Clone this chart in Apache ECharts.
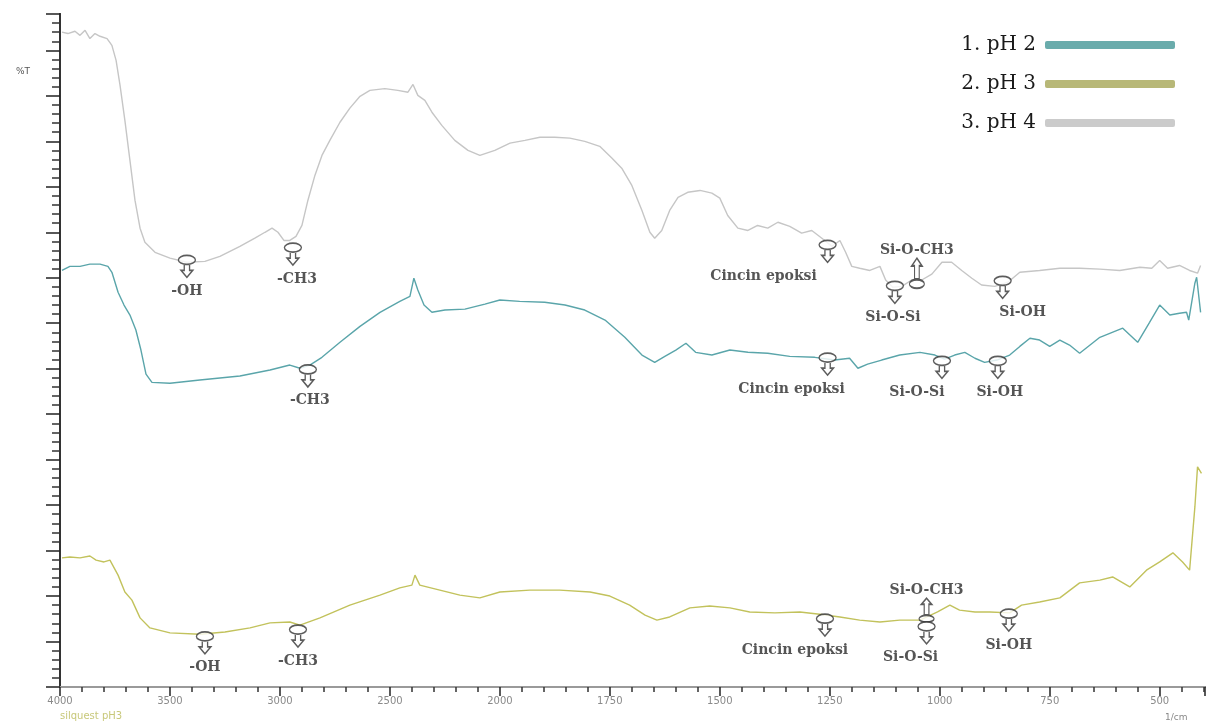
<!DOCTYPE html>
<html><head><meta charset="utf-8">
<script src="https://cdn.jsdelivr.net/npm/echarts@6/dist/echarts.min.js"></script>
<style>html,body{margin:0;padding:0;background:#fff}#c{width:1208px;height:725px}</style>
</head><body><div id="c"></div><script>
// ---- data (wavenumber in 1/cm, transmittance in arbitrary %T units) ----
const seriesNames = ['1. pH 2', '2. pH 3', '3. pH 4'];
const xTickLabels = [4000, 3500, 3000, 2500, 2000, 1750, 1500, 1250, 1000, 750, 500];

const wnPH4 = [3991,3964,3932,3909,3886,3864,3841,3818,3786,3764,3745,3727,3705,3682,3659,3636,3614,3568,3500,3423,3341,3273,3182,3114,3068,3036,3009,2982,2955,2927,2900,2873,2841,2809,2773,2727,2682,2636,2591,2523,2464,2418,2395,2373,2341,2309,2264,2205,2145,2091,2023,1977,1943,1909,1875,1841,1807,1773,1745,1723,1700,1677,1659,1648,1632,1614,1595,1573,1545,1518,1500,1482,1459,1436,1414,1391,1368,1341,1314,1291,1268,1245,1227,1214,1200,1182,1159,1136,1123,1107,1086,1064,1041,1018,995,973,950,927,905,875,845,818,773,727,682,636,591,545,518,500,482,455,432,414,407];
const tPH4 = [144.0,143.7,144.2,143.3,144.4,142.6,143.7,143.1,142.6,141.1,137.8,132.3,124.6,115.8,107.0,100.9,97.8,95.6,94.3,93.4,93.6,94.7,96.9,98.7,100.0,100.9,100.0,98.2,98.2,99.1,101.5,107.0,112.5,116.9,120.2,124.2,127.3,129.9,131.2,131.6,131.2,130.8,132.5,130.1,129.0,126.4,123.5,120.2,118.0,116.9,118.0,119.6,120.2,120.9,120.9,120.7,120.0,118.9,116.3,114.1,110.3,104.8,100.0,98.7,100.4,104.8,107.7,108.8,109.2,108.6,107.5,103.7,100.9,100.4,101.5,100.9,102.2,101.3,99.8,100.4,98.7,96.9,98.2,95.6,92.5,92.1,91.6,92.5,89.5,87.9,88.1,89.5,89.5,90.8,93.4,93.4,91.6,89.9,88.4,88.1,89.0,91.2,91.6,92.1,92.1,91.9,91.6,92.3,92.1,93.8,92.1,92.7,91.6,91.0,92.7];

const wnPH2 = [3991,3955,3909,3864,3818,3782,3764,3736,3709,3682,3655,3632,3609,3582,3500,3364,3182,3045,2955,2909,2864,2809,2727,2636,2545,2455,2409,2391,2373,2345,2309,2250,2159,2068,2000,1955,1898,1852,1807,1761,1716,1677,1648,1625,1600,1577,1555,1518,1477,1436,1391,1341,1284,1239,1205,1186,1164,1132,1091,1045,1011,989,966,943,920,898,870,841,818,795,773,750,727,705,682,636,584,550,523,500,477,455,439,434,420,416,407];
const tPH2 = [91.6,92.5,92.5,93.0,93.0,92.5,91.2,86.8,84.0,81.8,78.5,74.1,68.8,67.0,66.8,67.5,68.4,69.7,70.8,70.1,70.8,72.5,75.8,79.3,82.4,84.8,85.9,89.9,87.3,84.0,82.4,82.9,83.1,84.2,85.1,84.8,84.6,84.0,82.9,80.7,76.9,73.0,71.4,72.7,74.1,75.6,73.6,73.0,74.1,73.6,73.4,72.7,72.5,71.9,72.3,70.1,71.0,71.9,73.0,73.6,73.0,72.1,73.0,73.6,72.3,71.4,71.9,73.0,74.9,76.7,76.3,74.9,76.3,75.2,73.4,76.9,78.9,75.8,80.2,84.0,81.8,82.2,82.4,80.7,88.8,90.1,82.4];

const wnPH3 = [3991,3955,3909,3864,3836,3800,3773,3736,3705,3673,3636,3591,3500,3364,3250,3136,3045,2955,2909,2818,2682,2545,2455,2400,2386,2364,2273,2182,2091,2000,1932,1864,1795,1750,1705,1670,1643,1614,1568,1523,1477,1432,1375,1318,1273,1227,1182,1136,1091,1045,1005,977,955,920,886,841,814,773,727,682,636,607,568,530,500,470,448,432,420,414,405];
const tPH3 = [28.4,28.6,28.4,28.8,27.9,27.5,27.9,24.6,20.9,19.1,15.2,13.0,11.9,11.6,12.1,13.0,14.1,14.3,13.6,15.2,18.0,20.2,21.8,22.4,24.6,22.4,21.3,20.2,19.6,20.9,21.3,21.3,20.9,20.0,18.0,15.8,14.7,15.4,17.4,17.8,17.4,16.5,16.3,16.5,16.0,15.4,14.7,14.3,14.7,14.7,16.5,18.0,16.9,16.5,16.5,16.3,18.0,18.7,19.6,22.9,23.5,24.2,22.0,25.7,27.5,29.5,27.5,25.7,39.6,48.4,47.0];

// band assignments marked on the spectra
const annLabels = ['-OH','-CH3','Cincin epoksi','Si-O-CH3','Si-O-Si','Si-OH',
                   '-CH3','Cincin epoksi','Si-O-Si','Si-OH',
                   '-OH','-CH3','Cincin epoksi','Si-O-CH3','Si-O-Si','Si-OH'];
const annWn = [3423,2941,1255,1052,1102,857, 2873,1255,995,868, 3341,2918,1261,1030,1030,843];
const annT  = [92.5,95.2,95.8,91.0,86.8,87.9, 68.4,71.0,70.3,70.3, 9.7,11.2,13.6,16.9,11.9,14.7];
const annDir = ['down','down','down','up','down','down', 'down','down','down','down', 'down','down','down','up','down','down'];

// ---- layout / style (not data) ----
const annLabelShift = [0,4,-64,0,-2,20, 2,-36,-25,2, 0,0,-30,0,-16,0];
const annUpHeight = [0,0,0,30,0,0, 0,0,0,0, 0,0,0,24,0,0];
const colors = ['#5aa5aa', '#c2c25c', '#c6c6c6'];
const legendColors = ['#6aacac', '#b8b878', '#cbcbcb'];

// piecewise FTIR abscissa: 500 cm-1 per division above 2000, 250 cm-1 per division below
const WN_MIN = 397;
function toU(w) { return w >= 2000 ? (4000 - w) / 500 : 4 + (2000 - w) / 250; }

function pairs(wn, t) { return wn.map((w, i) => [toU(w), t[i]]); }

const DOWN = 'path://M0.5,4.5A8,4.5,0,1,1,16.5,4.5A8,4.5,0,1,1,0.5,4.5ZM6,9L11,9L11,15L14,15L8.5,22L3,15L6,15Z';
const UP = 'path://M8.5,0L14,8L11,8L11,22L6,22L6,8L3,8ZM0.5,27A8,4.5,0,1,1,16.5,27A8,4.5,0,1,1,0.5,27Z';

const annData = annLabels.map((lab, i) => {
  const up = annDir[i] === 'up';
  return {
    value: [toU(annWn[i]), annT[i]],
    symbol: up ? UP : DOWN,
    symbolSize: up ? [15, annUpHeight[i]] : [17, 22],
    label: {
      show: true, formatter: lab,
      position: up ? 'top' : 'bottom',
      distance: up ? 0 : 6,
      offset: [annLabelShift[i], 0]
    }
  };
});

const chart = echarts.init(document.getElementById('c'), null, {renderer: 'canvas'});
const lineSeries = [[wnPH2, tPH2], [wnPH3, tPH3], [wnPH4, tPH4]].map((d, i) => ({
  name: seriesNames[i], type: 'line', data: pairs(d[0], d[1]),
  showSymbol: false, symbol: 'none', smooth: false,
  lineStyle: {color: colors[i], width: 1.4}, itemStyle: {color: colors[i]},
  z: 2, silent: true
}));

chart.setOption({
  animation: false,
  backgroundColor: '#fff',
  grid: {left: 60, right: 3, top: 14, bottom: 38},
  legend: {
    orient: 'vertical', right: 28, top: 30, align: 'right',
    icon: 'roundRect', itemWidth: 130, itemHeight: 8, itemGap: 19,
    textStyle: {fontFamily: 'DejaVu Serif', fontSize: 20, color: '#1a1a1a', padding: [0, 4, 0, 0]},
    data: seriesNames.map((n, i) => ({name: n, itemStyle: {color: legendColors[i]}}))
  },
  xAxis: [{
    type: 'value', min: 0, max: toU(WN_MIN), interval: 1,
    axisLine: {lineStyle: {color: '#222', width: 2}},
    axisTick: {length: 9, lineStyle: {color: '#222', width: 1.5}},
    minorTick: {show: true, splitNumber: 5, length: 5, lineStyle: {color: '#333', width: 1.5}},
    splitLine: {show: false},
    axisLabel: {
      color: '#8a8a8a', fontSize: 10, fontFamily: 'DejaVu Sans', margin: 9, showMaxLabel: false,
      formatter: v => Math.abs(v - Math.round(v)) < 1e-6 && Math.round(v) < xTickLabels.length ? String(xTickLabels[Math.round(v)]) : ''
    }
  }, {
    type: 'value', position: 'top', min: 0, max: toU(WN_MIN),
    axisLine: {show: true, lineStyle: {color: '#9a9a9a', width: 2}},
    axisTick: {show: false}, axisLabel: {show: false}, splitLine: {show: false}
  }],
  yAxis: [{
    type: 'value', min: 0, max: 148, interval: 10,
    axisLine: {lineStyle: {color: '#222', width: 2}},
    axisTick: {length: 14, lineStyle: {color: '#222', width: 1.5}},
    minorTick: {show: true, splitNumber: 5, length: 8, lineStyle: {color: '#333', width: 1.5}},
    axisLabel: {show: false}, splitLine: {show: false}
  }, {
    type: 'value', position: 'right', min: 0, max: 148,
    axisLine: {show: true, lineStyle: {color: '#333', width: 2}},
    axisTick: {show: false}, axisLabel: {show: false}, splitLine: {show: false}
  }],
  series: lineSeries.concat([{
    name: 'bands', type: 'scatter', data: annData, z: 5, silent: true,
    itemStyle: {color: '#fff', borderColor: '#333', borderWidth: 1.5},
    label: {fontFamily: 'DejaVu Serif', fontSize: 14, fontWeight: 'bold', color: '#2a2a2a'}
  }]),
  graphic: [
    {type: 'text', left: 16, top: 67, style: {text: '%T', fontSize: 9, fill: '#555', fontFamily: 'DejaVu Sans'}},
    {type: 'text', left: 1165, top: 713, style: {text: '1/cm', fontSize: 9, fill: '#888', fontFamily: 'DejaVu Sans'}},
    {type: 'text', left: 60, top: 711, style: {text: 'silquest pH3', fontSize: 10, fill: '#c8c87a', fontFamily: 'DejaVu Sans'}}
  ]
});
</script></body></html>
